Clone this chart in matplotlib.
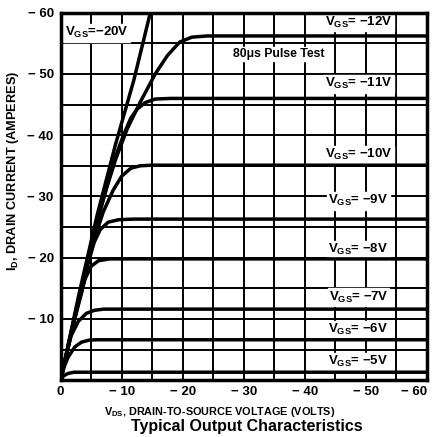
import matplotlib
matplotlib.use("Agg")
import matplotlib.pyplot as plt
from matplotlib.ticker import FixedLocator, MultipleLocator

plt.rcParams["font.family"] = ["Liberation Sans", "DejaVu Sans"]
plt.rcParams["font.weight"] = "bold"
plt.rcParams["mathtext.fontset"] = "custom"
plt.rcParams["mathtext.rm"] = "Liberation Sans:bold"
plt.rcParams["mathtext.it"] = "Liberation Sans:bold"
plt.rcParams["mathtext.bf"] = "Liberation Sans:bold"

# drain current curves (VDS volts, ID amperes)
vds_20 = [0, 3, 6, 9, 12, 14.7, 16]
id_20 = [0, -14, -27, -38.5, -49, -60, -65]

vds_12 = [0, 2, 4, 6, 7.5, 9, 10.9, 13, 15.5, 17.5, 19.5, 21.5, 24, 60]
id_12 = [0, -9, -17.8, -26, -31.3, -36, -41, -45.3, -50, -53, -55.2, -56, -56.2, -56.2]

vds_11 = [0, 2, 4, 6, 7.5, 9, 10.3, 11.5, 12.5, 13.8, 15.5, 18, 60]
id_11 = [0, -9, -17.8, -26, -31.3, -36.5, -40, -42.8, -44.2, -45.3, -45.9, -46, -46]

vds_10 = [0, 2, 4, 5.5, 7, 8.6, 10, 11.5, 13, 15, 60]
id_10 = [0, -9, -17.5, -23, -27.5, -31, -33.3, -34.6, -35, -35.1, -35.1]

vds_9 = [0, 2, 3.5, 4.5, 5.5, 6.5, 7.8, 9.5, 12, 60]
id_9 = [0, -8.8, -14.5, -19, -22.5, -24.6, -25.8, -26.2, -26.3, -26.3]

vds_8 = [0, 1.5, 3, 4, 5, 6.2, 8, 60]
id_8 = [0, -6.5, -13, -16.5, -18.6, -19.5, -19.8, -19.8]

vds_7 = [0, 0.8, 1.7, 2.9, 4.2, 5.5, 7, 60]
id_7 = [0, -3.6, -7.2, -9.6, -10.9, -11.4, -11.6, -11.6]

vds_6 = [0, 0.6, 1.2, 2.3, 3.4, 4.7, 6, 60]
id_6 = [0, -2.2, -3.7, -5.4, -6.2, -6.55, -6.6, -6.6]

vds_5 = [0, 0.5, 1.2, 2.2, 60]
id_5 = [0, -0.7, -1.1, -1.3, -1.3]

curves = [(vds_20, id_20), (vds_12, id_12), (vds_11, id_11), (vds_10, id_10),
          (vds_9, id_9), (vds_8, id_8), (vds_7, id_7), (vds_6, id_6), (vds_5, id_5)]

vgs_labels = ["−12V", "−11V", "−10V", "−9V", "−8V", "−7V", "−6V", "−5V"]
# baseline of each label, in amperes
vgs_label_y = [-57.9, -47.85, -36.25, -28.75, -20.75, -12.95, -7.65, -2.45]

x_ticks = [0, -10, -20, -30, -40, -50, -60]
x_ticklabels = ["0", "− 10", "− 20", "− 30", "− 40", "− 50", "− 60"]
y_ticks = [-10, -20, -30, -40, -50, -60]
y_ticklabels = ["− 10", "− 20", "− 30", "− 40", "− 50", "− 60"]

fig = plt.figure(figsize=(4.36, 4.37), dpi=100)
ax = fig.add_axes([0.139, 0.130, 0.840, 0.841])
ax.set_axisbelow(True)

# curves sit above the white label boxes, as in the original
for vds, cur in curves:
    ax.plot([-v for v in vds], cur, color="black", linewidth=2.5,
            solid_capstyle="butt", zorder=12)

ax.set_xlim(0, -60)
ax.set_ylim(0, -60)

ax.xaxis.set_major_locator(FixedLocator(x_ticks))
ax.set_xticklabels(x_ticklabels)
ax.yaxis.set_major_locator(FixedLocator(y_ticks))
ax.set_yticklabels(y_ticklabels)
ax.xaxis.set_minor_locator(MultipleLocator(5))
ax.yaxis.set_minor_locator(MultipleLocator(5))
ax.grid(which="both", color="black", linewidth=1.4)
ax.tick_params(which="both", length=0)
ax.tick_params(axis="x", pad=4, labelsize=9.5)
ax.tick_params(axis="y", pad=5, labelsize=9.5)
xt = ax.get_xticklabels()
xt[-1].set_horizontalalignment("right")
for s in ax.spines.values():
    s.set_linewidth(2.5)
    s.set_zorder(13)

box = dict(facecolor="white", edgecolor="white", pad=1.0)
for lab, y in zip(vgs_labels, vgs_label_y):
    ax.text(-48.8, y, "V$_{\\mathrm{GS}}$= " + lab, ha="center", va="baseline",
            fontsize=9.5, fontweight="bold", bbox=box, zorder=10)
ax.text(-0.7, -56.15, "V$_{\\mathrm{GS}}$=−20V", ha="left", va="baseline",
        fontsize=9.5, fontweight="bold", bbox=box, zorder=10)
ax.text(-35.7, -52.75, "80μs Pulse Test", ha="center", va="baseline",
        fontsize=8.8, fontweight="bold", bbox=box, zorder=10)

fig.text(13 / 436, 1 - 171 / 437, "I$_{\\mathrm{D}}$, DRAIN CURRENT (AMPERES)",
         rotation=90, ha="center", va="center", fontsize=9.2, fontweight="bold")
fig.text(220 / 436, 1 - 412 / 437, "V$_{\\mathrm{DS}}$, DRAIN-TO-SOURCE VOLTAGE (VOLTS)",
         ha="center", va="center", fontsize=7.8, fontweight="bold")
fig.text(247 / 436, 1 - 427 / 437, "Typical Output Characteristics",
         ha="center", va="center", fontsize=11.5, fontweight="bold")

fig.savefig("out.png", dpi=100)
